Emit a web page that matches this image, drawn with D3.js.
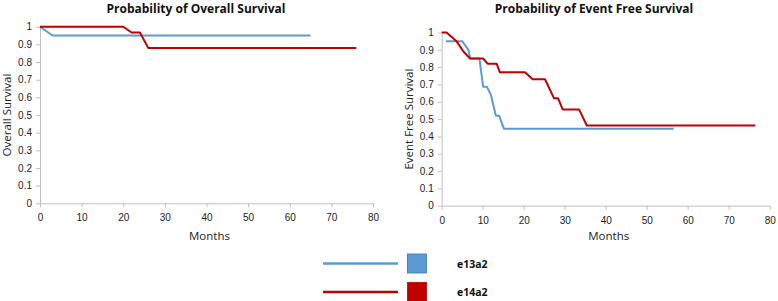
<!DOCTYPE html>
<html>
<head>
<meta charset="utf-8">
<script src="https://cdn.jsdelivr.net/npm/d3@7"></script>
<style>
  body { margin: 0; background: #fff; }
  svg { display: block; font-family: "Open Sans", "Liberation Sans", sans-serif; }
  .axis path, .axis line { stroke: #bfbfbf; }
  .axis text { fill: #222; font-size: 10px; }
</style>
</head>
<body>
<div id="chart"></div>
<script>
// months / survival probability pairs
const osE13Months = [0, 3, 65];
const osE13Values = [1, 0.95, 0.95];
const osE14Months = [0, 20, 22, 24, 26, 76];
const osE14Values = [1, 1, 0.967, 0.967, 0.88, 0.88];

const efsE13Months = [1, 5, 6.5, 7, 9.2, 10.1, 11, 12, 13.2, 14, 15.2, 56.6];
const efsE13Values = [0.95, 0.95, 0.9, 0.85, 0.85, 0.687, 0.687, 0.64, 0.52, 0.52, 0.444, 0.444];
const efsE14Months = [0, 1.2, 3.6, 5.3, 6.9, 10.1, 11.2, 13.4, 14.2, 20.3, 22.2, 25.2, 27.4, 28.4, 29.5, 33.5, 35.4, 76.5];
const efsE14Values = [1, 1, 0.95, 0.89, 0.85, 0.85, 0.82, 0.82, 0.77, 0.77, 0.73, 0.73, 0.62, 0.62, 0.556, 0.556, 0.463, 0.463];

const xTicks = [0, 10, 20, 30, 40, 50, 60, 70, 80];
const yTicks = [0, 0.1, 0.2, 0.3, 0.4, 0.5, 0.6, 0.7, 0.8, 0.9, 1];
const seriesNames = ["e13a2", "e14a2"];
const seriesColors = ["#5b9bd5", "#c00000"];
const seriesBorders = ["#41719c", "#c00000"];

const zip = (xs, ys) => xs.map((x, i) => ({ x, y: ys[i] }));

const svg = d3.select("#chart").append("svg")
  .attr("width", 778)
  .attr("height", 301);

function drawPanel(opts) {
  const { left, top, width, height, title, titleX, yLabel, yLabelX, series } = opts;
  const g = svg.append("g").attr("transform", `translate(${left},${top})`);

  const x = d3.scaleLinear().domain([0, 80]).range([0, width]);
  const y = d3.scaleLinear().domain([0, 1]).range([height, 0]);

  g.append("g")
    .attr("class", "axis")
    .attr("transform", `translate(0,${height})`)
    .call(d3.axisBottom(x).tickValues(xTicks).tickSize(4).tickSizeOuter(0).tickPadding(5))
    .call(s => s.selectAll("text").attr("dy", "0.9em"));

  g.append("g")
    .attr("class", "axis")
    .call(d3.axisLeft(y).tickValues(yTicks).tickSize(4).tickSizeOuter(0).tickPadding(4)
      .tickFormat(d => d3.format("~g")(d)));

  const line = d3.line().x(d => x(d.x)).y(d => y(d.y));
  series.forEach((pts, i) => {
    g.append("path")
      .datum(pts)
      .attr("fill", "none")
      .attr("stroke", seriesColors[i])
      .attr("stroke-width", 2)
      .attr("stroke-linejoin", "round")
      .attr("d", line);
  });

  svg.append("text")
    .attr("x", titleX)
    .attr("y", 13)
    .attr("text-anchor", "middle")
    .attr("font-weight", "bold")
    .attr("font-size", 12)
    .attr("fill", "#111")
    .text(title);

  svg.append("text")
    .attr("transform", `translate(${yLabelX},${top + height / 2}) rotate(-90)`)
    .attr("text-anchor", "middle")
    .attr("font-size", 11.5)
    .attr("fill", "#222")
    .text(yLabel);

  svg.append("text")
    .attr("x", left + x(40) + 3)
    .attr("y", 240)
    .attr("text-anchor", "middle")
    .attr("font-size", 11.5)
    .attr("fill", "#222")
    .text("Months");
}

drawPanel({
  left: 40, top: 26.7, width: 333, height: 176.6,
  title: "Probability of Overall Survival", titleX: 196,
  yLabel: "Overall Survival", yLabelX: 11,
  series: [zip(osE13Months, osE13Values), zip(osE14Months, osE14Values)]
});

drawPanel({
  left: 441.7, top: 32.5, width: 328, height: 173.2,
  title: "Probability of Event Free Survival", titleX: 594,
  yLabel: "Event Free Survival", yLabelX: 413,
  series: [zip(efsE13Months, efsE13Values), zip(efsE14Months, efsE14Values)]
});

// legend
const legend = svg.append("g");
seriesNames.forEach((name, i) => {
  const cy = 263.5 + i * 28.5;
  legend.append("line")
    .attr("x1", 323).attr("x2", 398)
    .attr("y1", cy).attr("y2", cy)
    .attr("stroke", seriesColors[i])
    .attr("stroke-width", 2.5);
  legend.append("rect")
    .attr("x", 407.5).attr("y", cy - 9.5)
    .attr("width", 19).attr("height", 19)
    .attr("fill", seriesColors[i])
    .attr("stroke", seriesBorders[i])
    .attr("stroke-width", 0.8);
  legend.append("text")
    .attr("x", 457).attr("y", cy + 4)
    .attr("font-size", 10.5)
    .attr("font-weight", "bold")
    .attr("fill", "#111")
    .text(name);
});
</script>
</body>
</html>
